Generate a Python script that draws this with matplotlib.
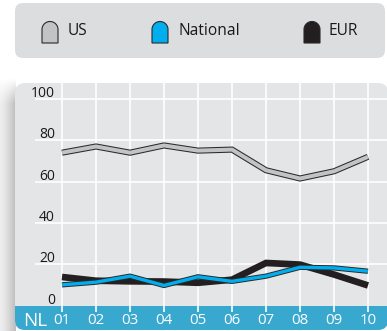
import numpy as np
import matplotlib
matplotlib.use("Agg")
import matplotlib.pyplot as plt
from matplotlib.patches import FancyBboxPatch, Rectangle, Polygon
import matplotlib.patheffects as pe

plt.rcParams['font.family'] = ['Open Sans', 'DejaVu Sans']

# ---- data ----
country = "NL"
years = ["01", "02", "03", "04", "05", "06", "07", "08", "09", "10"]
us = [74, 77, 74, 77.5, 75, 75.5, 65.5, 61.5, 65, 72]
national = [10, 11.3, 14.2, 9.7, 13.9, 11.7, 14.2, 18.5, 18.2, 16.6]
eur = [13.8, 12, 11.7, 11.6, 11, 12.5, 20.6, 19.8, 15, 9.7]
yticks = [0, 20, 40, 60, 80, 100]
series_names = ["US", "National", "EUR"]

# ---- colours ----
panel_col = "#e4e5e7"
legend_col = "#dcdddf"
band_col = "#38a8cf"
us_col = "#c2c3c5"
nat_col = "#00aeef"
eur_col = "#231f20"
edge_col = "#2a2a2a"
text_col = "#1a1718"

W, H = 387, 331
fig = plt.figure(figsize=(W / 100, H / 100), dpi=100)
fig.patch.set_facecolor("white")

# background layer in pixel coordinates
bg = fig.add_axes([0, 0, 1, 1])
bg.set_xlim(0, W)
bg.set_ylim(H, 0)
bg.axis("off")

# legend box
bg.add_patch(FancyBboxPatch((15, 3), 370, 55,
                            boxstyle="round,pad=0,rounding_size=8",
                            fc=legend_col, ec="none"))

# soft shadow on the left side of the panel
sx0, sx1, sy0, sy1 = 0, 16, 78, H
ny, nx = 200, 40
xs = np.linspace(0, 1, nx)
ys = np.linspace(0, 1, ny)
ax_alpha = 0.12 + 0.36 * xs ** 1.4
top_fade = np.clip((ys * (sy1 - sy0)) / 25.0, 0, 1)
alpha = top_fade[:, None] * ax_alpha[None, :]
img = np.zeros((ny, nx, 4))
img[..., :3] = 0.45
img[..., 3] = alpha
bg.imshow(img, extent=(sx0, sx1, sy1, sy0), aspect="auto", interpolation="bilinear", zorder=0)

# chart panel with bottom band
bg.add_patch(FancyBboxPatch((15, 83), 373, 247,
                            boxstyle="round,pad=0,rounding_size=10",
                            fc=panel_col, ec="none", zorder=1))
bg.add_patch(FancyBboxPatch((15, 294), 373, 36,
                            boxstyle="round,pad=0,rounding_size=10",
                            fc=band_col, ec="none", zorder=2))
bg.add_patch(Rectangle((15, 288), 373, 18, fc=panel_col, ec="none", zorder=3))

# legend entries: arch-shaped swatches
def arch(x0, color):
    w, top, bottom = 16, 21.5, 43
    r = w / 2
    cx, cy = x0 + r, top + r
    t = np.linspace(np.pi, 0, 40)
    pts = [(x0, bottom)] + [(cx + r * np.cos(a), cy - r * np.sin(a)) for a in t] + [(x0 + w, bottom)]
    bg.add_patch(Polygon(pts, closed=True, fc=color, ec=edge_col, lw=0.8, zorder=4))

legend_pos = [(42, 68), (152, 178), (304, 329)]
legend_cols = [us_col, nat_col, eur_col]
for (ix, tx), name, col in zip(legend_pos, series_names, legend_cols):
    arch(ix, col)
    bg.text(tx, 31, name, ha="left", va="center", fontsize=11.2, color=text_col, zorder=5)

# ---- main plotting area ----
left, right, top, bottom = 15, 387, 83, 306
ax = fig.add_axes([left / W, (H - bottom) / H, (right - left) / W, (bottom - top) / H])
ax.patch.set_alpha(0)
x = np.arange(len(years))
px_per_x = 34.0
px_per_y = 2.065
ax.set_xlim((left - 62) / px_per_x, 9 + (right - 368) / px_per_x)
ax.set_ylim((305.5 - bottom) / px_per_y, (305.5 - top) / px_per_y)
ax.axis("off")

xl, xr = ax.get_xlim()
grid_kw = dict(color="white", lw=1.2, zorder=1)
ax.hlines(yticks[1:], (35 - 62) / px_per_x, xr, **grid_kw)
ax.vlines(x, -6.5 / px_per_y, ax.get_ylim()[1], clip_on=False, **grid_kw)

for v in yticks:
    ax.text((55 - 62) / px_per_x, v + 1.8 / px_per_y, str(v), ha="right", va="baseline",
            fontsize=10, color=text_col, zorder=2)

band_y = (305.5 - 320.5) / px_per_y
for xi, lab in zip(x, years):
    ax.text(xi, band_y, lab, ha="center", va="center", fontsize=10.8, color="white", clip_on=False)
ax.text((35 - 62) / px_per_x, band_y, country, ha="center", va="center", fontsize=13.5,
        color="white", clip_on=False)

ax.plot(x, us, color=us_col, lw=2.9, solid_joinstyle="miter", solid_capstyle="butt", zorder=3,
        path_effects=[pe.Stroke(linewidth=4.4, foreground=edge_col), pe.Normal()])
ax.plot(x, eur, color=eur_col, lw=4.8, solid_joinstyle="miter", solid_capstyle="butt", zorder=4)
ax.plot(x, national, color=nat_col, lw=2.4, solid_joinstyle="miter", solid_capstyle="butt", zorder=5,
        path_effects=[pe.Stroke(linewidth=3.8, foreground=edge_col), pe.Normal()])

fig.savefig("out.png", dpi=100)
